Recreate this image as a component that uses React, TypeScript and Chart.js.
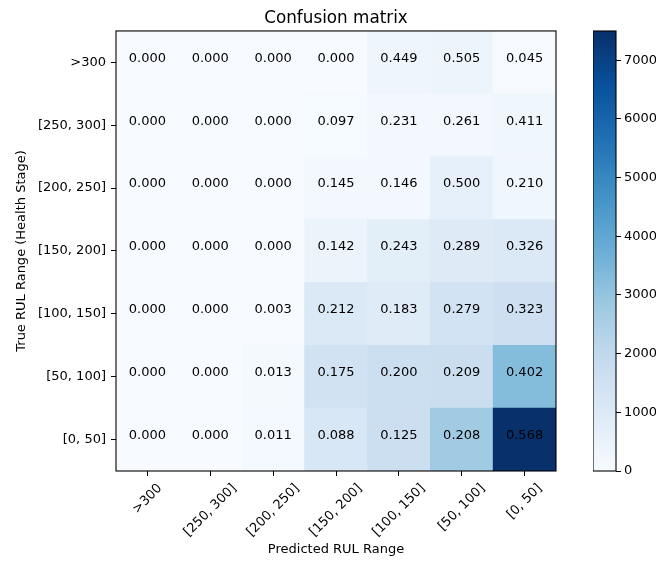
import React, { useEffect, useRef } from 'react';
import { Chart, registerables } from 'chart.js';

Chart.register(...registerables);

// ---------- data ----------
const predictedLabels = ['>300', '[250, 300]', '[200, 250]', '[150, 200]', '[100, 150]', '[50, 100]', '[0, 50]'];
const trueLabels = ['>300', '[250, 300]', '[200, 250]', '[150, 200]', '[100, 150]', '[50, 100]', '[0, 50]'];

// counts (drive the cell colour)
const countsGt300 = [0, 0, 0, 0, 337, 379, 34];
const counts250to300 = [0, 0, 0, 71, 169, 190, 300];
const counts200to250 = [0, 0, 0, 186, 187, 640, 269];
const counts150to200 = [0, 0, 0, 454, 778, 925, 1043];
const counts100to150 = [0, 0, 15, 1060, 915, 1395, 1615];
const counts50to100 = [0, 0, 107, 1435, 1640, 1714, 3296];
const counts0to50 = [0, 0, 145, 1162, 1650, 2746, 7498];

// row-normalised values (printed in each cell)
const fracGt300 = [0.0, 0.0, 0.0, 0.0, 0.449, 0.505, 0.045];
const frac250to300 = [0.0, 0.0, 0.0, 0.097, 0.231, 0.261, 0.411];
const frac200to250 = [0.0, 0.0, 0.0, 0.145, 0.146, 0.5, 0.21];
const frac150to200 = [0.0, 0.0, 0.0, 0.142, 0.243, 0.289, 0.326];
const frac100to150 = [0.0, 0.0, 0.003, 0.212, 0.183, 0.279, 0.323];
const frac50to100 = [0.0, 0.0, 0.013, 0.175, 0.2, 0.209, 0.402];
const frac0to50 = [0.0, 0.0, 0.011, 0.088, 0.125, 0.208, 0.568];

const colorbarTicks = [0, 1000, 2000, 3000, 4000, 5000, 6000, 7000];

const countRows = [countsGt300, counts250to300, counts200to250, counts150to200, counts100to150, counts50to100, counts0to50];
const fracRows = [fracGt300, frac250to300, frac200to250, frac150to200, frac100to150, frac50to100, frac0to50];
const vmax = Math.max(...countRows.map((r) => Math.max(...r)));

// ---------- Blues colormap ----------
const BLUES = ['#f7fbff', '#deebf7', '#c6dbef', '#9ecae1', '#6baed6', '#4292c6', '#2171b5', '#08519c', '#08306b'];
const hexToRgb = (h: string) => [parseInt(h.slice(1, 3), 16), parseInt(h.slice(3, 5), 16), parseInt(h.slice(5, 7), 16)];
const BLUES_RGB = BLUES.map(hexToRgb);
function blues(t: number): string {
  const v = Math.max(0, Math.min(1, t)) * (BLUES_RGB.length - 1);
  const i = Math.min(Math.floor(v), BLUES_RGB.length - 2);
  const f = v - i;
  const a = BLUES_RGB[i];
  const b = BLUES_RGB[i + 1];
  const c = a.map((x, k) => Math.round(x + (b[k] - x) * f));
  return `rgb(${c[0]},${c[1]},${c[2]})`;
}

const FONT = 'DejaVu Sans';
const TICK_SIZE = 13;

export default function App() {
  const mainRef = useRef<HTMLCanvasElement | null>(null);
  const cbRef = useRef<HTMLCanvasElement | null>(null);

  useEffect(() => {
    Chart.defaults.font.family = FONT;
    Chart.defaults.color = '#000';

    const cells: any[] = [];
    const colors: string[] = [];
    trueLabels.forEach((_, r) => {
      predictedLabels.forEach((lab, c) => {
        cells.push({ x: lab, y: [r - 0.5, r + 0.5] });
        colors.push(blues(countRows[r][c] / vmax));
      });
    });

    const framePlugin = {
      id: 'frame',
      afterDraw(chart: any) {
        const { ctx, chartArea } = chart;
        ctx.save();
        ctx.strokeStyle = '#000';
        ctx.lineWidth = 1.1;
        ctx.strokeRect(chartArea.left, chartArea.top, chartArea.right - chartArea.left, chartArea.bottom - chartArea.top);
        ctx.restore();
      },
    };

    const cellTextPlugin = {
      id: 'cellText',
      afterDatasetsDraw(chart: any) {
        const { ctx } = chart;
        const xs = chart.scales.x;
        const ys = chart.scales.y;
        ctx.save();
        ctx.font = `${TICK_SIZE}px "${FONT}"`;
        ctx.fillStyle = '#000';
        ctx.textAlign = 'center';
        ctx.textBaseline = 'middle';
        fracRows.forEach((row, r) => {
          row.forEach((v, c) => {
            ctx.fillText(v.toFixed(3), xs.getPixelForValue(c), ys.getPixelForValue(r) - 4);
          });
        });
        ctx.restore();
      },
    };

    const xLabelPlugin = {
      id: 'xLabels',
      afterDraw(chart: any) {
        const { ctx, chartArea } = chart;
        const xs = chart.scales.x;
        ctx.save();
        ctx.font = `${TICK_SIZE}px "${FONT}"`;
        ctx.fillStyle = '#000';
        ctx.textAlign = 'center';
        ctx.textBaseline = 'middle';
        predictedLabels.forEach((lab, i) => {
          const px = xs.getPixelForTick(i);
          const w = ctx.measureText(lab).width;
          const h = TICK_SIZE * 1.17;
          const cy = chartArea.bottom + 10 + (w + h) / (2 * Math.SQRT2);
          ctx.save();
          ctx.translate(px, cy);
          ctx.rotate(-Math.PI / 4);
          ctx.fillText(lab, 0, 0);
          ctx.restore();
        });
        ctx.restore();
      },
    };

    const main = new Chart(mainRef.current as HTMLCanvasElement, {
      type: 'bar',
      data: {
        labels: predictedLabels,
        datasets: [
          {
            data: cells,
            backgroundColor: colors,
            borderWidth: 0,
            barPercentage: 1,
            categoryPercentage: 1,
          } as any,
        ],
      },
      options: {
        animation: false,
        responsive: false,
        maintainAspectRatio: false,
        events: [],
        layout: { padding: { left: 0, right: 100, top: 0, bottom: 0 } },
        plugins: {
          legend: { display: false },
          tooltip: { enabled: false },
          title: {
            display: true,
            text: 'Confusion matrix',
            fullSize: false,
            color: '#000',
            font: { size: 16.8, weight: 'normal', family: FONT },
            padding: { top: 9, bottom: 1.8 },
          },
        },
        scales: {
          x: {
            type: 'category',
            offset: true,
            grid: { offset: false, drawOnChartArea: false, drawTicks: true, tickLength: 5, color: '#000', lineWidth: 1 },
            border: { display: false },
            ticks: { display: false },
            title: {
              display: true,
              text: 'Predicted RUL Range',
              color: '#000',
              font: { size: TICK_SIZE, family: FONT },
              padding: { top: 0, bottom: 4 },
            },
            afterFit: (s: any) => {
              s.height = 90;
            },
          },
          y: {
            type: 'linear',
            min: -0.5,
            max: 6.5,
            reverse: true,
            afterBuildTicks: (s: any) => {
              s.ticks = trueLabels.map((_, i) => ({ value: i }));
            },
            ticks: {
              autoSkip: false,
              padding: 5,
              color: '#000',
              font: { size: TICK_SIZE, family: FONT },
              callback: (v: any) => trueLabels[v as number],
            },
            grid: { drawOnChartArea: false, drawTicks: true, tickLength: 5, color: '#000', lineWidth: 1 },
            border: { display: false },
            title: {
              display: true,
              text: 'True RUL Range (Health Stage)',
              color: '#000',
              font: { size: TICK_SIZE, family: FONT },
              padding: { top: 14, bottom: 0 },
            },
            afterFit: (s: any) => {
              s.width = 116;
            },
          },
        },
      } as any,
      plugins: [cellTextPlugin, xLabelPlugin, framePlugin],
    });

    const cb = new Chart(cbRef.current as HTMLCanvasElement, {
      type: 'bar',
      data: {
        labels: [''],
        datasets: [
          {
            data: [[0, vmax]],
            backgroundColor: (ctx: any) => {
              const { chart } = ctx;
              const area = chart.chartArea;
              if (!area) return BLUES[0];
              const g = chart.ctx.createLinearGradient(0, area.bottom, 0, area.top);
              BLUES.forEach((c, i) => g.addColorStop(i / (BLUES.length - 1), c));
              return g;
            },
            borderWidth: 0,
            barPercentage: 1,
            categoryPercentage: 1,
          } as any,
        ],
      },
      options: {
        animation: false,
        responsive: false,
        maintainAspectRatio: false,
        events: [],
        layout: { padding: { left: 0, right: 0, top: 31, bottom: 90 } },
        plugins: { legend: { display: false }, tooltip: { enabled: false }, title: { display: false } },
        scales: {
          x: { type: 'category', display: false, offset: true },
          y: {
            type: 'linear',
            position: 'right',
            min: 0,
            max: vmax,
            afterBuildTicks: (s: any) => {
              s.ticks = colorbarTicks.map((v) => ({ value: v }));
            },
            ticks: {
              autoSkip: false,
              padding: 3,
              color: '#000',
              font: { size: TICK_SIZE, family: FONT },
              callback: (v: any) => String(v),
            },
            grid: { drawOnChartArea: false, drawTicks: true, tickLength: 5, color: '#000', lineWidth: 1 },
            border: { display: false },
            afterFit: (s: any) => {
              s.width = 40;
            },
          },
        },
      } as any,
      plugins: [framePlugin],
    });

    return () => {
      main.destroy();
      cb.destroy();
    };
  }, []);

  return (
    <div style={{ position: 'fixed', left: 0, top: 0, width: 656, height: 561, background: '#fff' }}>
      <canvas ref={mainRef} width={656} height={561} style={{ position: 'absolute', left: 0, top: 0, width: 656, height: 561 }} />
      <canvas ref={cbRef} width={63} height={561} style={{ position: 'absolute', left: 593, top: 0, width: 63, height: 561 }} />
    </div>
  );
}
